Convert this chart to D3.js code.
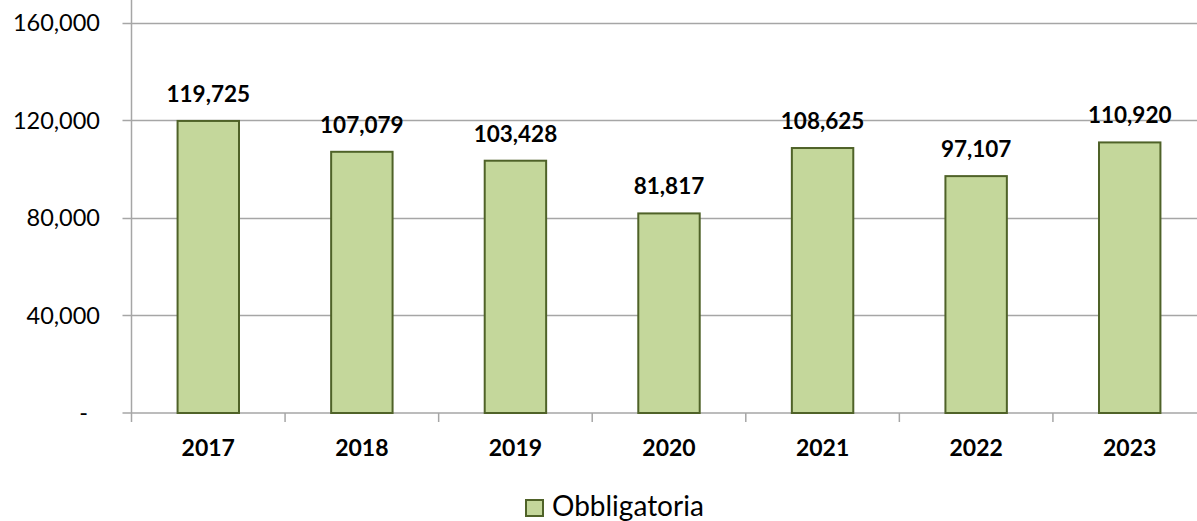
<!DOCTYPE html>
<html>
<head>
<meta charset="utf-8">
<script src="https://cdn.jsdelivr.net/npm/d3@7"></script>
<style>
  html, body { margin: 0; padding: 0; background: #fff; }
  svg { display: block; font-family: Lato, "Open Sans", sans-serif; }
</style>
</head>
<body>
<svg id="chart" width="1197" height="521"></svg>
<script>
const categories = ["2017", "2018", "2019", "2020", "2021", "2022", "2023"];
const values = [119725, 107079, 103428, 81817, 108625, 97107, 110920];
const tickValues = [0, 40000, 80000, 120000, 160000];
const tickLabels = ["-", "40,000", "80,000", "120,000", "160,000"];
const seriesName = "Obbligatoria";

const svg = d3.select("#chart");
const W = 1197, H = 521;
const x0 = 131.5, x1 = 1206.5, yBase = 413, yTop = 22.7;

const y = d3.scaleLinear().domain([0, 160000]).range([yBase, yTop]);
const x = d3.scaleBand().domain(categories).range([x0, x1]).paddingInner(0.6).paddingOuter(0.3);
const xb = d3.scaleBand().domain(categories).range([x0, x1]).padding(0);

const fmt = d3.format(",");

// gridlines
svg.append("g").selectAll("line").data(tickValues.slice(1)).join("line")
  .attr("x1", x0 - 9).attr("x2", W)
  .attr("y1", d => Math.round(y(d)) + 0.5).attr("y2", d => Math.round(y(d)) + 0.5)
  .attr("stroke", "#a6a6a6").attr("stroke-width", 1.5);

// baseline with left tick
svg.append("line").attr("x1", x0 - 9).attr("x2", W)
  .attr("y1", yBase).attr("y2", yBase)
  .attr("stroke", "#a6a6a6").attr("stroke-width", 1.5);

// y axis line
svg.append("line").attr("x1", x0).attr("x2", x0)
  .attr("y1", 0).attr("y2", yBase + 9)
  .attr("stroke", "#a6a6a6").attr("stroke-width", 1.5);

// x category boundary ticks
svg.append("g").selectAll("line").data(categories.slice(1)).join("line")
  .attr("x1", d => xb(d)).attr("x2", d => xb(d))
  .attr("y1", yBase).attr("y2", yBase + 9)
  .attr("stroke", "#a6a6a6").attr("stroke-width", 1.5);

// y tick labels
svg.append("g").selectAll("text").data(tickValues).join("text")
  .attr("x", (d, i) => tickLabels[i] === "-" ? 88 : 100)
  .attr("y", d => y(d))
  .attr("dy", "0.36em")
  .attr("text-anchor", "end")
  .attr("font-size", 23.5)
  .attr("fill", "#000")
  .text((d, i) => tickLabels[i]);

// bars
svg.append("g").selectAll("rect").data(values).join("rect")
  .attr("x", (d, i) => x(categories[i]))
  .attr("y", d => y(d))
  .attr("width", x.bandwidth())
  .attr("height", d => yBase - y(d))
  .attr("fill", "#c4d79b")
  .attr("stroke", "#4f6228")
  .attr("stroke-width", 2);

// value labels
svg.append("g").selectAll("text").data(values).join("text")
  .attr("x", (d, i) => x(categories[i]) + x.bandwidth() / 2)
  .attr("y", d => y(d) - 19)
  .attr("text-anchor", "middle")
  .attr("font-size", 22.5)
  .attr("font-weight", "bold")
  .attr("fill", "#000")
  .text(d => fmt(d));

// x labels
svg.append("g").selectAll("text").data(categories).join("text")
  .attr("x", d => x(d) + x.bandwidth() / 2)
  .attr("y", 456)
  .attr("text-anchor", "middle")
  .attr("font-size", 23)
  .attr("font-weight", "bold")
  .attr("fill", "#000")
  .text(d => d);

// legend
const lg = svg.append("g");
lg.append("rect").attr("x", 526).attr("y", 500).attr("width", 17).attr("height", 16)
  .attr("fill", "#c4d79b").attr("stroke", "#4f6228").attr("stroke-width", 2);
lg.append("text").attr("x", 552).attr("y", 516).attr("font-size", 28).attr("fill", "#000")
  .text(seriesName);
</script>
</body>
</html>
